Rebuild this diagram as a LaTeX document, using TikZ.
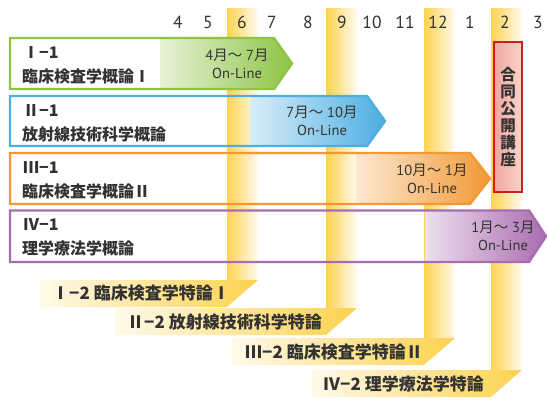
\documentclass[tikz,border=0pt]{standalone}
\usepackage{fontspec}
\setmainfont{PT Sans}
\newfontfamily\jp{Noto Sans CJK JP}
\definecolor{grn}{RGB}{141,196,70}
\definecolor{blu}{RGB}{76,174,226}
\definecolor{org}{RGB}{242,152,52}
\definecolor{pur}{RGB}{170,108,176}
\definecolor{ylw}{RGB}{252,210,78}
\definecolor{txt}{RGB}{50,50,50}
\definecolor{redb}{RGB}{200,30,40}
\definecolor{pinkL}{RGB}{240,165,160}
\definecolor{pinkR}{RGB}{250,212,202}
\newcommand\rowarrow[6]{%
  \begin{scope}
    \clip (10,#1) -- (#3,#1) -- (#4,{(#1+#2)/2}) -- (#3,#2) -- (10,#2) -- cycle;
    \shade[left color=#6!22, right color=#6] (#5,#1) rectangle (#4,#2);
  \end{scope}
  \draw[#6, line width=2.4pt, line join=miter] (10,#1) -- (#3,#1) -- (#4,{(#1+#2)/2}) -- (#3,#2) -- (10,#2) -- cycle;
}
\newcommand\ribbon[5]{%
  \shade[left color=ylw, middle color=ylw!55, right color=ylw!8] (#1,8) rectangle (#2,#3);
  \shade[left color=ylw!12, right color=ylw] (#4,#3) -- (#2,#3) -- (#1,{#3+#5}) -- (#4,{#3+#5}) -- cycle;
}
\begin{document}
\begin{tikzpicture}[x=1pt,y=-1pt,
  month/.style={font=\fontsize{17.5}{20}\selectfont, text=txt, inner sep=0},
  lbl/.style={font=\jp\bfseries\fontsize{16}{19}\selectfont, text=txt, inner sep=0, anchor=west},
  sublbl/.style={font=\jp\bfseries\fontsize{17}{20}\selectfont, text=txt, inner sep=0, anchor=west},
  period/.style={font=\fontsize{14.5}{18}\selectfont, text=txt, inner sep=0, align=center},
  kozabox/.style={rectangle, draw=redb, line width=1.8pt, left color=pinkL, right color=pinkR, minimum width=28pt, minimum height=150pt, inner sep=0}]
\useasboundingbox (0,0) rectangle (547,400);
\fill[white] (0,0) rectangle (547,400);
% ribbons (yellow bands)
\ribbon{227}{258}{280}{40}{27}
\ribbon{326}{357}{308}{115}{27}
\ribbon{424}{455}{338}{232}{27}
\ribbon{491}{522}{370}{312}{27}
% month labels
\foreach \m/\x in {4/178,5/208,6/242,7/272,8/308,9/342,10/372,11/405,12/438,1/470,2/505,3/538}
  \node[month] (m\m) at (\x,22) {\m};
% row arrows
\rowarrow{38}{89}{274}{292}{160}{grn}
\rowarrow{96}{146}{367}{385}{250}{blu}
\rowarrow{153}{204}{470}{490}{356}{org}
\rowarrow{210.5}{262}{529}{546}{425}{pur}
% red box
\node[kozabox] (koza) at (508,117) {};
\node[font=\jp\bfseries\fontsize{15.5}{17}\selectfont, text=txt, align=center, inner sep=0] (kozat) at (koza.center) {合\\同\\公\\開\\講\\座};
% row labels
\node[lbl] (r1a) at (23,53) {Ⅰ−1};
\node[lbl] (r1b) at (22,76) {臨床検査学概論Ⅰ};
\node[lbl] (r2a) at (23,111) {Ⅱ−1};
\node[lbl] (r2b) at (22,134) {放射線技術科学概論};
\node[lbl] (r3a) at (23,168) {Ⅲ−1};
\node[lbl] (r3b) at (22,191) {臨床検査学概論Ⅱ};
\node[lbl] (r4a) at (23,225) {Ⅳ−1};
\node[lbl] (r4b) at (22,248) {理学療法学概論};
% periods
\node[period] (p1) at (237,64) {4{\jp 月～} 7{\jp 月}\\On-Line};
\node[period] (p2) at (322,121) {7{\jp 月～} 10{\jp 月}\\On-Line};
\node[period] (p3) at (432,179) {10{\jp 月～} 1{\jp 月}\\On-Line};
\node[period] (p4) at (503,236) {1{\jp 月～} 3{\jp 月}\\On-Line};
% sub labels
\node[sublbl] (s1) at (52,293) {Ⅰ−2 臨床検査学特論Ⅰ};
\node[sublbl] (s2) at (127,322) {Ⅱ−2 放射線技術科学特論};
\node[sublbl] (s3) at (245,352) {Ⅲ−2 臨床検査学特論Ⅱ};
\node[sublbl] (s4) at (323,384) {Ⅳ−2 理学療法学特論};
\end{tikzpicture}
\end{document}
